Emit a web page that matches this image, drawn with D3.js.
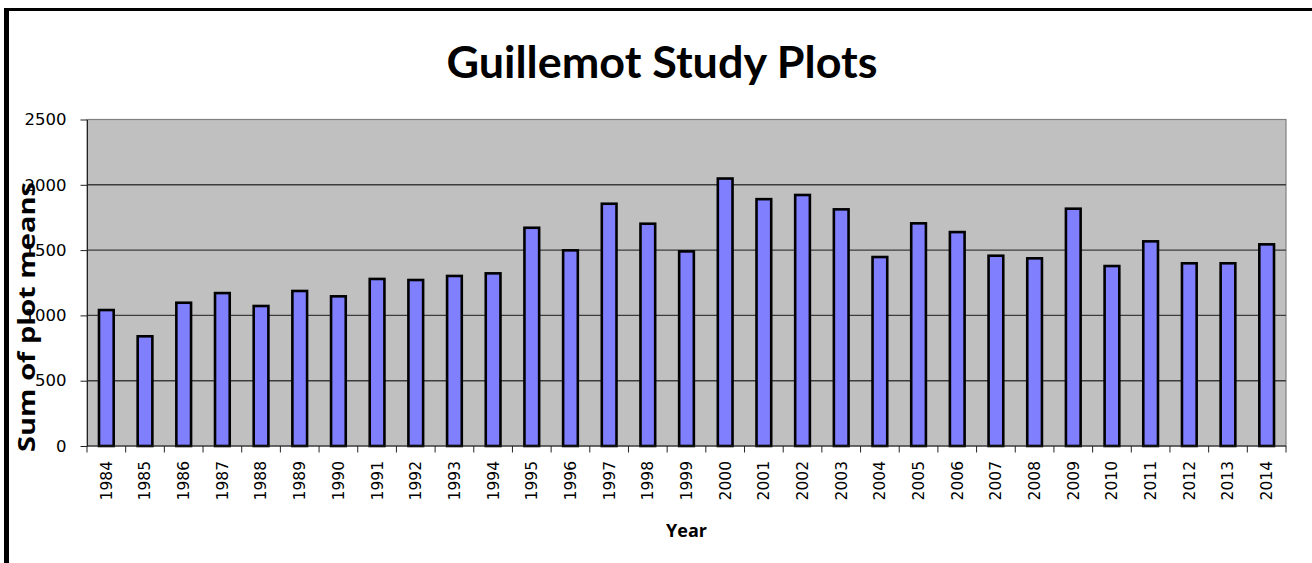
<!DOCTYPE html>
<html>
<head>
<meta charset="utf-8">
<script src="https://cdn.jsdelivr.net/npm/d3@7"></script>
<style>
  body { margin: 0; background: #fff; }
  svg { display: block; }
  .tick text { font-family: 'DejaVu Sans', Verdana, sans-serif; fill: #000; }
</style>
</head>
<body>
<div id="chart"></div>
<script>
// data
const years = ['1984', '1985', '1986', '1987', '1988', '1989', '1990', '1991', '1992', '1993',
  '1994', '1995', '1996', '1997', '1998', '1999', '2000', '2001', '2002', '2003', '2004',
  '2005', '2006', '2007', '2008', '2009', '2010', '2011', '2012', '2013', '2014']
const sums = [1041, 840, 1097, 1171, 1072, 1187, 1146, 1279, 1271, 1302,
  1322, 1671, 1498, 1855, 1702, 1490, 2048, 1890, 1922, 1812, 1447,
  1705, 1638, 1457, 1437, 1817, 1378, 1567, 1399, 1399, 1544]
const yTicks = [0, 500, 1000, 1500, 2000, 2500]

const width = 1312
const height = 563
const plot = { left: 87, right: 1286, top: 119.5, bottom: 446 }

const svg = d3.select('#chart').append('svg')
  .attr('width', width)
  .attr('height', height)

// outer frame (only left and top edges fall inside the picture)
svg.append('rect').attr('x', 4).attr('y', 8).attr('width', 5).attr('height', height - 8).attr('fill', '#000')
svg.append('rect').attr('x', 4).attr('y', 8).attr('width', width - 4).attr('height', 3).attr('fill', '#000')

const x = d3.scaleBand()
  .domain(years)
  .range([plot.left, plot.right])
  .paddingInner(0.62)
  .paddingOuter(0.31)

const y = d3.scaleLinear()
  .domain([0, 2500])
  .range([plot.bottom, plot.top])

// plot area
svg.append('rect')
  .attr('x', plot.left)
  .attr('y', plot.top)
  .attr('width', plot.right - plot.left)
  .attr('height', plot.bottom - plot.top)
  .attr('fill', '#c0c0c0')
  .attr('stroke', '#808080')
  .attr('stroke-width', 1.2)

svg.append('g')
  .selectAll('line')
  .data(yTicks.filter(d => d > 0 && d < 2500))
  .join('line')
  .attr('x1', plot.left)
  .attr('x2', plot.right)
  .attr('y1', d => y(d))
  .attr('y2', d => y(d))
  .attr('stroke', '#3c3c3c')
  .attr('stroke-width', 1.4)

// bars
svg.append('g')
  .selectAll('rect')
  .data(years.map((yr, i) => ({ yr, v: sums[i] })))
  .join('rect')
  .attr('x', d => x(d.yr))
  .attr('y', d => y(d.v))
  .attr('width', x.bandwidth())
  .attr('height', d => y(0) - y(d.v))
  .attr('fill', '#8080ff')
  .attr('stroke', '#000')
  .attr('stroke-width', 2.6)

// y axis
const yAxis = svg.append('g')
  .attr('transform', `translate(${plot.left},0)`)
  .call(d3.axisLeft(y).tickValues(yTicks).tickFormat(d3.format('d'))
    .tickSize(6.5).tickPadding(14).tickSizeOuter(0))
yAxis.select('.domain').attr('stroke', '#222')
yAxis.selectAll('.tick line').attr('stroke', '#222')
yAxis.selectAll('.tick text').style('font-size', '16.5px')

// x axis: ticks sit on the category boundaries
const xb = d3.scaleLinear().domain([0, years.length]).range([plot.left, plot.right])
svg.append('line')
  .attr('x1', plot.left).attr('x2', plot.right)
  .attr('y1', plot.bottom).attr('y2', plot.bottom)
  .attr('stroke', '#222')
svg.append('g')
  .selectAll('line')
  .data(d3.range(years.length + 1))
  .join('line')
  .attr('x1', d => xb(d))
  .attr('x2', d => xb(d))
  .attr('y1', plot.bottom)
  .attr('y2', plot.bottom + 6.5)
  .attr('stroke', '#222')

const xAxis = svg.append('g')
  .attr('transform', `translate(0,${plot.bottom})`)
  .call(d3.axisBottom(x).tickSize(0).tickPadding(0))
xAxis.select('.domain').remove()
xAxis.selectAll('.tick text')
  .style('font-size', '15.5px')
  .attr('transform', 'rotate(-90)')
  .attr('text-anchor', 'end')
  .attr('x', -15)
  .attr('y', 0)
  .attr('dy', '0.35em')

// title
svg.append('text')
  .attr('x', 662)
  .attr('y', 78)
  .attr('text-anchor', 'middle')
  .attr('font-family', 'Lato, "Open Sans", sans-serif')
  .attr('font-weight', 'bold')
  .attr('font-size', 44)
  .attr('textLength', 431)
  .attr('lengthAdjust', 'spacingAndGlyphs')
  .text('Guillemot Study Plots')

// axis titles
svg.append('text')
  .attr('x', (plot.left + plot.right) / 2)
  .attr('y', 537)
  .attr('text-anchor', 'middle')
  .attr('font-family', '"Open Sans", "DejaVu Sans", sans-serif')
  .attr('font-weight', 'bold')
  .attr('font-size', 18)
  .text('Year')

svg.append('text')
  .attr('transform', 'translate(35,317) rotate(-90)')
  .attr('text-anchor', 'middle')
  .attr('font-family', '"Open Sans", "DejaVu Sans", sans-serif')
  .attr('font-weight', 'bold')
  .attr('font-size', 23)
  .attr('textLength', 270)
  .attr('lengthAdjust', 'spacingAndGlyphs')
  .text('Sum of plot means')
</script>
</body>
</html>
